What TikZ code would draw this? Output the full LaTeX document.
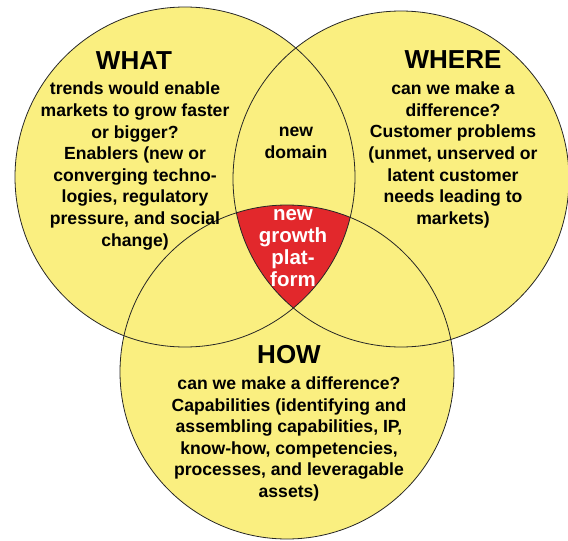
\documentclass[tikz,border=0pt]{standalone}
\usepackage{fontspec}
\setmainfont{Liberation Sans}
\usepackage{tikz}
\usetikzlibrary{positioning}
\definecolor{vennYellow}{RGB}{250,239,128}
\definecolor{platformRed}{RGB}{226,40,44}
\tikzset{every picture/.style={semithick}}

\begin{document}
\begin{tikzpicture}[x=1pt, y=-1pt,
        venn/.style={draw=black!85, line width=0.8pt},
        heading/.style={font=\fontsize{26}{30}\selectfont\bfseries, inner sep=0pt},
        body/.style={font=\fontsize{17.6}{21.6}\selectfont\bfseries, align=center, inner sep=0pt},
        redtext/.style={font=\fontsize{20.5}{21.8}\selectfont\bfseries, align=center, inner sep=0pt, text=white}]
        \useasboundingbox (0,0) rectangle (568,541);
        \coordinate (cWhat) at (185,177);
        \coordinate (cWhere) at (401,179);
        \coordinate (cHow) at (287,372);
        % yellow discs
        \fill[vennYellow] (cWhat) circle[radius=170pt];
        \fill[vennYellow] (cWhere) circle[radius=168pt];
        \fill[vennYellow] (cHow) circle[radius=167pt];
        % common part
        \begin{scope}
            \clip (cWhat) circle[radius=170pt];
            \clip (cWhere) circle[radius=168pt];
            \fill[platformRed] (cHow) circle[radius=167pt];
        \end{scope}
        \foreach \c/\r in {cWhat/170pt, cWhere/168pt, cHow/167pt}
            \draw[venn] (\c) circle[radius=\r];
        % texts
        \node[heading] (whatTitle) at (134,61) {WHAT};
        \node[body] (whatText) at (135,166) {trends would enable\\markets to grow faster\\or bigger?\\Enablers (new or\\converging techno-\\logies, regulatory\\pressure, and social\\change)};
        \node[heading] (whereTitle) at (453,60) {WHERE};
        \node[body] (whereText) at (453,155) {can we make a\\difference?\\Customer problems\\(unmet, unserved or\\latent customer\\needs leading to\\markets)};
        \node[body] (domainText) at (296,143) {new\\domain};
        \node[redtext] (platformText) at (293,248) {new\\growth\\plat-\\form};
        \node[heading] (howTitle) at (289,355) {HOW};
        \node[body] (howText) at (289,439) {can we make a difference?\\Capabilities (identifying and\\assembling capabilities, IP,\\know-how, competencies,\\processes, and leveragable\\assets)};
    \end{tikzpicture}
\end{document}
